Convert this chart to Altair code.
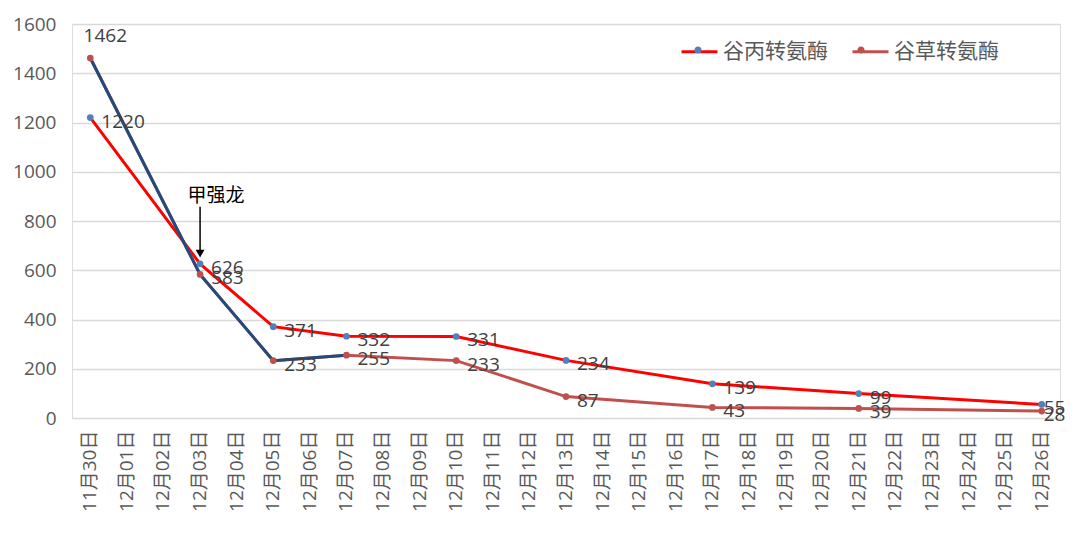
import altair as alt
import pandas as pd

# ---- data ----
dates = ["11月30日"] + [f"12月{d:02d}日" for d in range(1, 27)]
obs_dates = ["11月30日", "12月03日", "12月05日", "12月07日", "12月10日",
             "12月13日", "12月17日", "12月21日", "12月26日"]
alt_values = [1220, 626, 371, 332, 331, 234, 139, 99, 55]   # 谷丙转氨酶
ast_values = [1462, 583, 233, 255, 233, 87, 43, 39, 28]     # 谷草转氨酶
series_names = ["谷丙转氨酶", "谷草转氨酶"]

anno_date = ["12月03日"]
anno_text = ["甲强龙"]
anno_text_y = [901]
anno_top_y = [858]
anno_tip_y = [668]

rows = []
for i, d in enumerate(obs_dates):
    rows.append({"date": d, "value": alt_values[i], "series": series_names[0],
                 "series_m": series_names[0], "idx": i})
    rows.append({"date": d, "value": ast_values[i], "series": series_names[1],
                 "series_m": series_names[1], "idx": i})
df = pd.DataFrame(rows)
anno = pd.DataFrame({"date": anno_date, "text": anno_text, "ty": anno_text_y,
                     "top": anno_top_y, "tip": anno_tip_y})
last_idx = len(obs_dates) - 1

NUM_FONT = "Open Sans, Noto Sans CJK SC"
CJK_FONT = "Noto Sans CJK SC"

x_enc = alt.X("date:N", scale=alt.Scale(domain=dates),
              axis=alt.Axis(title=None, labelAngle=-90, grid=False, ticks=False,
                            domain=False, labelFontSize=19, labelColor="#595959",
                            labelFont=NUM_FONT, labelPadding=12))
y_enc = alt.Y("value:Q", scale=alt.Scale(domain=[0, 1600], nice=False),
              axis=alt.Axis(title=None, values=list(range(0, 1601, 200)), format="d",
                            grid=True, gridColor="#D9D9D9", gridWidth=1.5,
                            ticks=False, domain=False, labelFontSize=19,
                            labelColor="#595959", labelFont=NUM_FONT,
                            labelPadding=16))

base = alt.Chart(df)

lines = base.mark_line(strokeWidth=3).encode(
    x=x_enc, y=y_enc,
    color=alt.Color("series:N",
                    scale=alt.Scale(domain=series_names, range=["#FF0000", "#C0504D"]),
                    legend=alt.Legend(title=None, orient="none", legendX=608, legendY=8,
                                      direction="horizontal", symbolType="stroke",
                                      symbolStrokeWidth=3, symbolSize=1296,
                                      labelFont=CJK_FONT, labelFontSize=21,
                                      labelColor="#595959", columnPadding=18,
                                      labelOffset=4, zindex=0)),
    detail="series:N",
    order="idx:Q",
)

navy = base.mark_line(strokeWidth=3, color="#234A7C").encode(
    x="date:N", y="value:Q", order="idx:Q"
).transform_filter(
    (alt.datum.series == series_names[1]) & (alt.datum.idx <= 3)
)

points = base.mark_point(filled=True, size=45, opacity=1, strokeWidth=0).encode(
    x="date:N", y="value:Q",
    fill=alt.Fill("series_m:N",
                  scale=alt.Scale(range=["#4F81BD", "#C0504D"]),
                  legend=alt.Legend(title=None, orient="none", legendX=608, legendY=8,
                                    direction="horizontal",
                                    symbolType="M-0.2,0A0.2,0.2 0 1,1 0.2,0A0.2,0.2 0 1,1 -0.2,0Z",
                                    symbolSize=1296, symbolStrokeWidth=0,
                                    labelFont=CJK_FONT, labelFontSize=21,
                                    labelColor="rgba(0,0,0,0)", columnPadding=18,
                                    labelOffset=4, zindex=1)),
)

labels = base.mark_text(align="left", baseline="middle", dx=11, dy=4,
                        fontSize=19, color="#404040", font=NUM_FONT).encode(
    x="date:N", y="value:Q", text="value:Q"
).transform_filter(
    ~((alt.datum.series == series_names[1]) & (alt.datum.idx == 0))
    & (alt.datum.idx < last_idx)
)

end_labels = base.mark_text(align="left", baseline="middle", dx=2, dy=4,
                            fontSize=19, color="#404040", font=NUM_FONT).encode(
    x="date:N", y="value:Q", text="value:Q"
).transform_filter(alt.datum.idx == last_idx)

top_label = base.mark_text(align="center", baseline="middle", dx=15, dy=-22,
                           fontSize=19, color="#404040", font=NUM_FONT).encode(
    x="date:N", y="value:Q", text="value:Q"
).transform_filter(
    (alt.datum.series == series_names[1]) & (alt.datum.idx == 0)
)

abase = alt.Chart(anno)
arrow_line = abase.mark_rule(color="black", strokeWidth=1.5).encode(
    x="date:N", y="top:Q", y2="tip:Q")
arrow_head = abase.mark_point(shape="triangle-down", filled=True, size=80,
                              color="black", opacity=1).encode(
    x="date:N", y="tip:Q")
arrow_text = abase.mark_text(fontSize=19, color="black", font=CJK_FONT,
                             align="center", baseline="middle", dx=16).encode(
    x="date:N", y="ty:Q", text="text:N")

chart = alt.layer(
    lines, navy, points, labels, end_labels, top_label,
    arrow_line, arrow_head, arrow_text
).properties(
    width=988, height=394,
    autosize=alt.AutoSizeParams(type="none"),
    padding={"left": 64, "top": 16, "right": 8, "bottom": 110},
).configure_view(stroke=None).configure(background="white")

chart.save("out.html", embed_options={"renderer": "svg", "actions": False})
